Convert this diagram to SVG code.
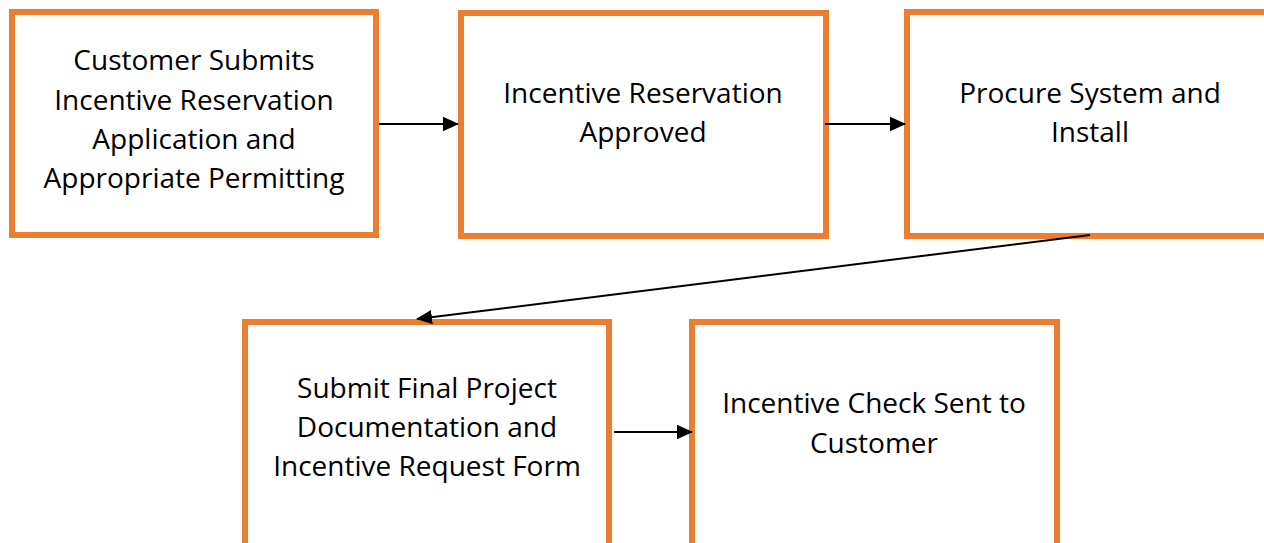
<svg xmlns="http://www.w3.org/2000/svg" width="1264" height="543" viewBox="0 0 1264 543">
<style>
.box{fill:#fff;stroke:#ED7D31;stroke-width:6}
.t{font-family:"Open Sans","Noto Sans",sans-serif;font-size:28px;fill:#000;text-anchor:middle}
.c{stroke:#000;stroke-width:2;fill:none}
</style>
<defs>
<marker id="ah" markerWidth="8" markerHeight="8" refX="7.5" refY="4" orient="auto" markerUnits="strokeWidth">
<path d="M0,0.4 L8,4 L0,7.6 Z" fill="#000"/>
</marker>
</defs>
<rect width="1264" height="543" fill="#fff"/>
<g id="n1"><rect class="box" x="12" y="12" width="364" height="223"/>
<text class="t"><tspan x="194" y="70">Customer Submits</tspan><tspan x="194" y="110">Incentive Reservation</tspan><tspan x="194" y="149">Application and</tspan><tspan x="194" y="188">Appropriate Permitting</tspan></text></g>
<g id="n2"><rect class="box" x="461" y="13" width="365" height="223"/>
<text class="t"><tspan x="643" y="103">Incentive Reservation</tspan><tspan x="643" y="142">Approved</tspan></text></g>
<g id="n3"><rect class="box" x="907" y="12" width="370" height="224"/>
<text class="t"><tspan x="1090" y="103">Procure System and</tspan><tspan x="1090" y="142">Install</tspan></text></g>
<g id="n4"><rect class="box" x="245" y="322" width="364" height="240"/>
<text class="t"><tspan x="427" y="398">Submit Final Project</tspan><tspan x="427" y="437">Documentation and</tspan><tspan x="427" y="476">Incentive Request Form</tspan></text></g>
<g id="n5"><rect class="box" x="692" y="322" width="365" height="240"/>
<text class="t"><tspan x="874" y="413">Incentive Check Sent to</tspan><tspan x="874" y="453">Customer</tspan></text></g>
<g id="connectors">
<line class="c" x1="379" y1="124" x2="458" y2="124" marker-end="url(#ah)"/>
<line class="c" x1="825" y1="124" x2="905" y2="124" marker-end="url(#ah)"/>
<line class="c" x1="1090" y1="235" x2="417" y2="319" marker-end="url(#ah)"/>
<line class="c" x1="614" y1="432" x2="692" y2="432" marker-end="url(#ah)"/>
</g>
</svg>
